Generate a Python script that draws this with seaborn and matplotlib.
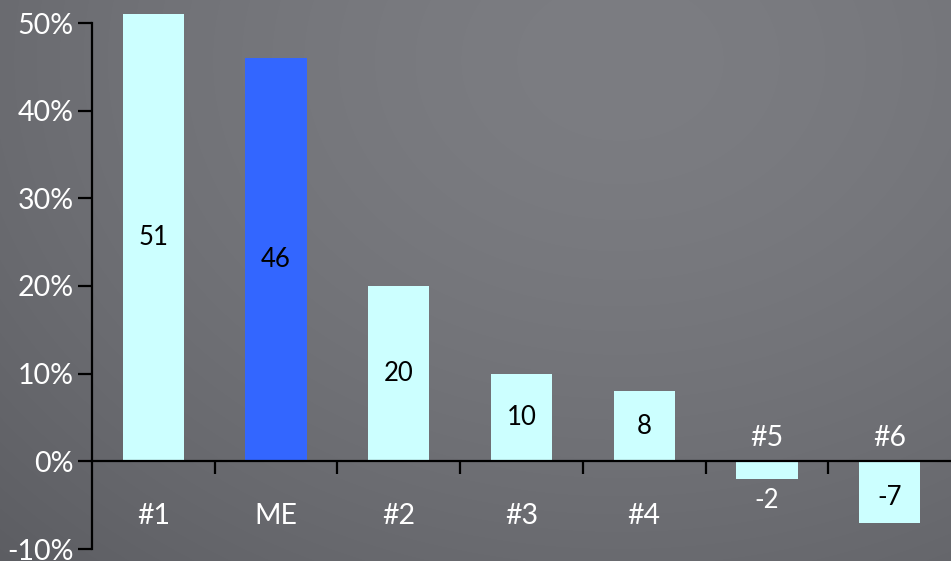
import numpy as np
import pandas as pd
import matplotlib
matplotlib.use("Agg")
import matplotlib.pyplot as plt
import seaborn as sns

categories = ["#1", "ME", "#2", "#3", "#4", "#5", "#6"]
values = [51, 46, 20, 10, 8, -2, -7]
bar_colors = ["#ccffff", "#3366ff", "#ccffff", "#ccffff", "#ccffff", "#ccffff", "#ccffff"]
y_ticks = [-10, 0, 10, 20, 30, 40, 50]
y_tick_labels = ["-10%", "0%", "10%", "20%", "30%", "40%", "50%"]

df = pd.DataFrame({"cat": categories, "val": values})

sns.set_style("white")
plt.rcParams["font.family"] = ["Lato", "DejaVu Sans"]

W, H = 951, 561
fig = plt.figure(figsize=(W / 100, H / 100), dpi=100)

# soft grey backdrop, lighter toward the upper middle, darker at the corners
bg = fig.add_axes([0, 0, 1, 1], zorder=-10)
yy, xx = np.mgrid[0:H, 0:W]
d = np.sqrt(((xx - 620) / 900.0) ** 2 + ((yy - 60) / 700.0) ** 2)
light = np.array([124, 125, 130]) / 255.0
dark = np.array([92, 93, 98]) / 255.0
t = np.clip(d, 0, 1)[..., None] ** 1.6
img = light * (1 - t) + dark * t
bg.imshow(img, aspect="auto", extent=[0, 1, 0, 1], origin="upper")
bg.axis("off")

ax = fig.add_axes([92 / W, (H - 549) / H, 1 - 92 / W, (549 - 23) / H])
ax.patch.set_alpha(0)

sns.barplot(data=df, x="cat", y="val", hue="cat", palette=bar_colors,
            legend=False, width=0.5, saturation=1, ax=ax)
for p in ax.patches:
    p.set_clip_on(False)
    p.set_linewidth(0)

ax.set_xlim(-0.5, 6.5)
ax.set_ylim(-10, 50)
ax.set_xlabel("")
ax.set_ylabel("")

for s in ["top", "right"]:
    ax.spines[s].set_visible(False)
ax.spines["bottom"].set_position(("data", 0))
ax.spines["bottom"].set_color("black")
ax.spines["bottom"].set_linewidth(1.6)
ax.spines["left"].set_color("black")
ax.spines["left"].set_linewidth(1.6)

ax.set_yticks(y_ticks)
ax.set_yticklabels(y_tick_labels, color="white", fontsize=20.5)
ax.tick_params(axis="y", left=True, direction="out", length=10, width=1.6,
               color="black", pad=3)

ax.set_xticks([])
ax.set_xticks(np.arange(0.5, 6, 1), minor=True)
ax.tick_params(axis="x", which="minor", bottom=True, direction="out", length=9,
               width=1.6, color="black")

for i, (c, v) in enumerate(zip(categories, values)):
    # category name sits on the side of the axis away from the bar
    ly = -6.2 if v >= 0 else 2.7
    ax.text(i, ly, c, ha="center", va="center", color="white", fontsize=20.5)
    if v >= 0:
        ax.text(i, v / 2, str(v), ha="center", va="center", color="black", fontsize=18.5)
    elif v > -4:
        ax.text(i, -4.5, str(v), ha="center", va="center", color="white", fontsize=18.5)
    else:
        ax.text(i, -4.1, str(v), ha="center", va="center", color="black", fontsize=18.5)

fig.savefig("out.png", dpi=100)
